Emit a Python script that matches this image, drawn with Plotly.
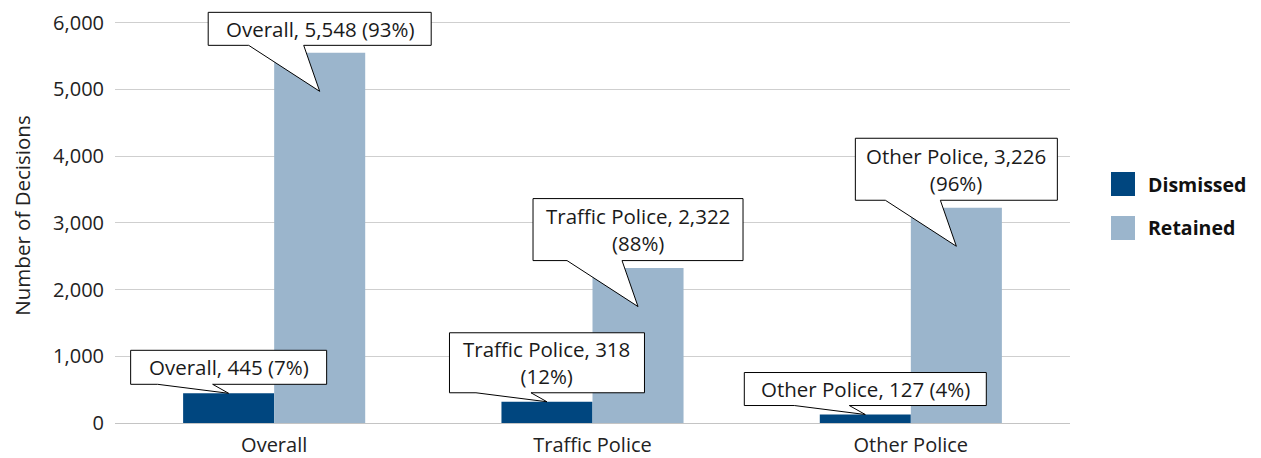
import plotly.graph_objects as go

# ---------------- data ----------------
categories = ["Overall", "Traffic Police", "Other Police"]
series_names = ["Dismissed", "Retained"]
dismissed = [445, 318, 127]
retained = [5548, 2322, 3226]
y_tick_values = [0, 1000, 2000, 3000, 4000, 5000, 6000]
y_tick_labels = ["0", "1,000", "2,000", "3,000", "4,000", "5,000", "6,000"]
y_title = "Number of Decisions"

# ---------------- style ----------------
colors = ["#00467f", "#9bb5cc"]
FONT = "Open Sans"
BAR_W = 0.286
Y_MAX = 6220
# callout box (outer pixel size) and whether text wraps, per series and category
box_w = [[196, 195, 242], [223, 210, 202]]
box_h = [[34, 60, 33], [33, 62, 62]]
wrap = [[False, True, False], [False, True, True]]
tip_dy = [0, -38.5]       # tip offset from bar top (pixels, up positive)
gap = [9, 46]             # tip to box bottom
base_l, base_r = -71, -16 # wedge base relative to box centre

values = [dismissed, retained]
totals = [d + r for d, r in zip(dismissed, retained)]
xpos = list(range(len(categories)))

fig = go.Figure()
offsets = [-BAR_W, 0]
for s, name in enumerate(series_names):
    fig.add_trace(go.Bar(
        x=xpos, y=values[s], name=name, width=BAR_W, offset=offsets[s],
        marker=dict(color=colors[s], line=dict(width=0)), showlegend=False,
        hoverinfo="skip"))

shapes = []
annotations = []
for s in range(len(series_names)):
    for i, cat in enumerate(categories):
        v = values[s][i]
        cx = xpos[i] + offsets[s] + BAR_W / 2
        pct = round(100 * v / totals[i])
        w, h, g, t = box_w[s][i], box_h[s][i], gap[s], tip_dy[s]
        bot = t + g
        top = bot + h
        path = (f"M {-w/2},{bot} L {-w/2},{top} L {w/2},{top} L {w/2},{bot} "
                f"L {base_r},{bot} L 0,{t} L {base_l},{bot} Z")
        shapes.append(dict(type="path", xref="x", yref="y", xsizemode="pixel",
                           ysizemode="pixel", xanchor=cx, yanchor=v, path=path,
                           fillcolor="white", line=dict(color="black", width=1),
                           layer="above"))
        sep = "<br>" if wrap[s][i] else " "
        txt = f"{cat}, {v:,}{sep}({pct}%)"
        annotations.append(dict(
            x=cx, y=v, xref="x", yref="y", text=txt, showarrow=False,
            xanchor="center", yanchor="middle", yshift=bot + h / 2,
            font=dict(family=FONT, size=20.5, color="#1a1a1a")))

# custom legend
leg_y = [0.5759, 0.4699]
for s, name in enumerate(series_names):
    shapes.append(dict(type="rect", xref="paper", yref="paper",
                       xsizemode="pixel", ysizemode="pixel", xanchor=1,
                       yanchor=leg_y[s], x0=41, x1=65, y0=-12, y1=12,
                       fillcolor=colors[s], line=dict(width=0)))
    annotations.append(dict(x=1, y=leg_y[s], xref="paper", yref="paper",
                            xshift=76, xanchor="left", yanchor="middle",
                            text=f"<b>{name}</b>", showarrow=False,
                            font=dict(family=FONT, size=19.5, color="#111")))

fig.update_layout(
    width=1253, height=450,
    margin=dict(l=107, r=191, t=0, b=35, autoexpand=False),
    paper_bgcolor="white", plot_bgcolor="white",
    font=dict(family=FONT, size=20, color="#222"),
    barmode="overlay",
    shapes=shapes, annotations=annotations,
    xaxis=dict(range=[-0.5, 2.5], tickvals=xpos, ticktext=categories,
               showgrid=False, zeroline=False, showline=False, ticks="",
               automargin=False, ticklabelstandoff=8,
               tickfont=dict(size=20, color="#222")),
    yaxis=dict(range=[0, Y_MAX], tickvals=y_tick_values, ticktext=y_tick_labels,
               showgrid=True, gridcolor="#cfcfcf", gridwidth=1,
               zeroline=True, zerolinecolor="#c4c4c4", zerolinewidth=1,
               showline=False, ticks="", ticklabelstandoff=10, automargin=False,
               tickfont=dict(size=20, color="#222")),
)
fig.update_yaxes(title=dict(text=y_title, standoff=19,
                            font=dict(size=20.5, color="#222")))

fig.write_html("out.html")
